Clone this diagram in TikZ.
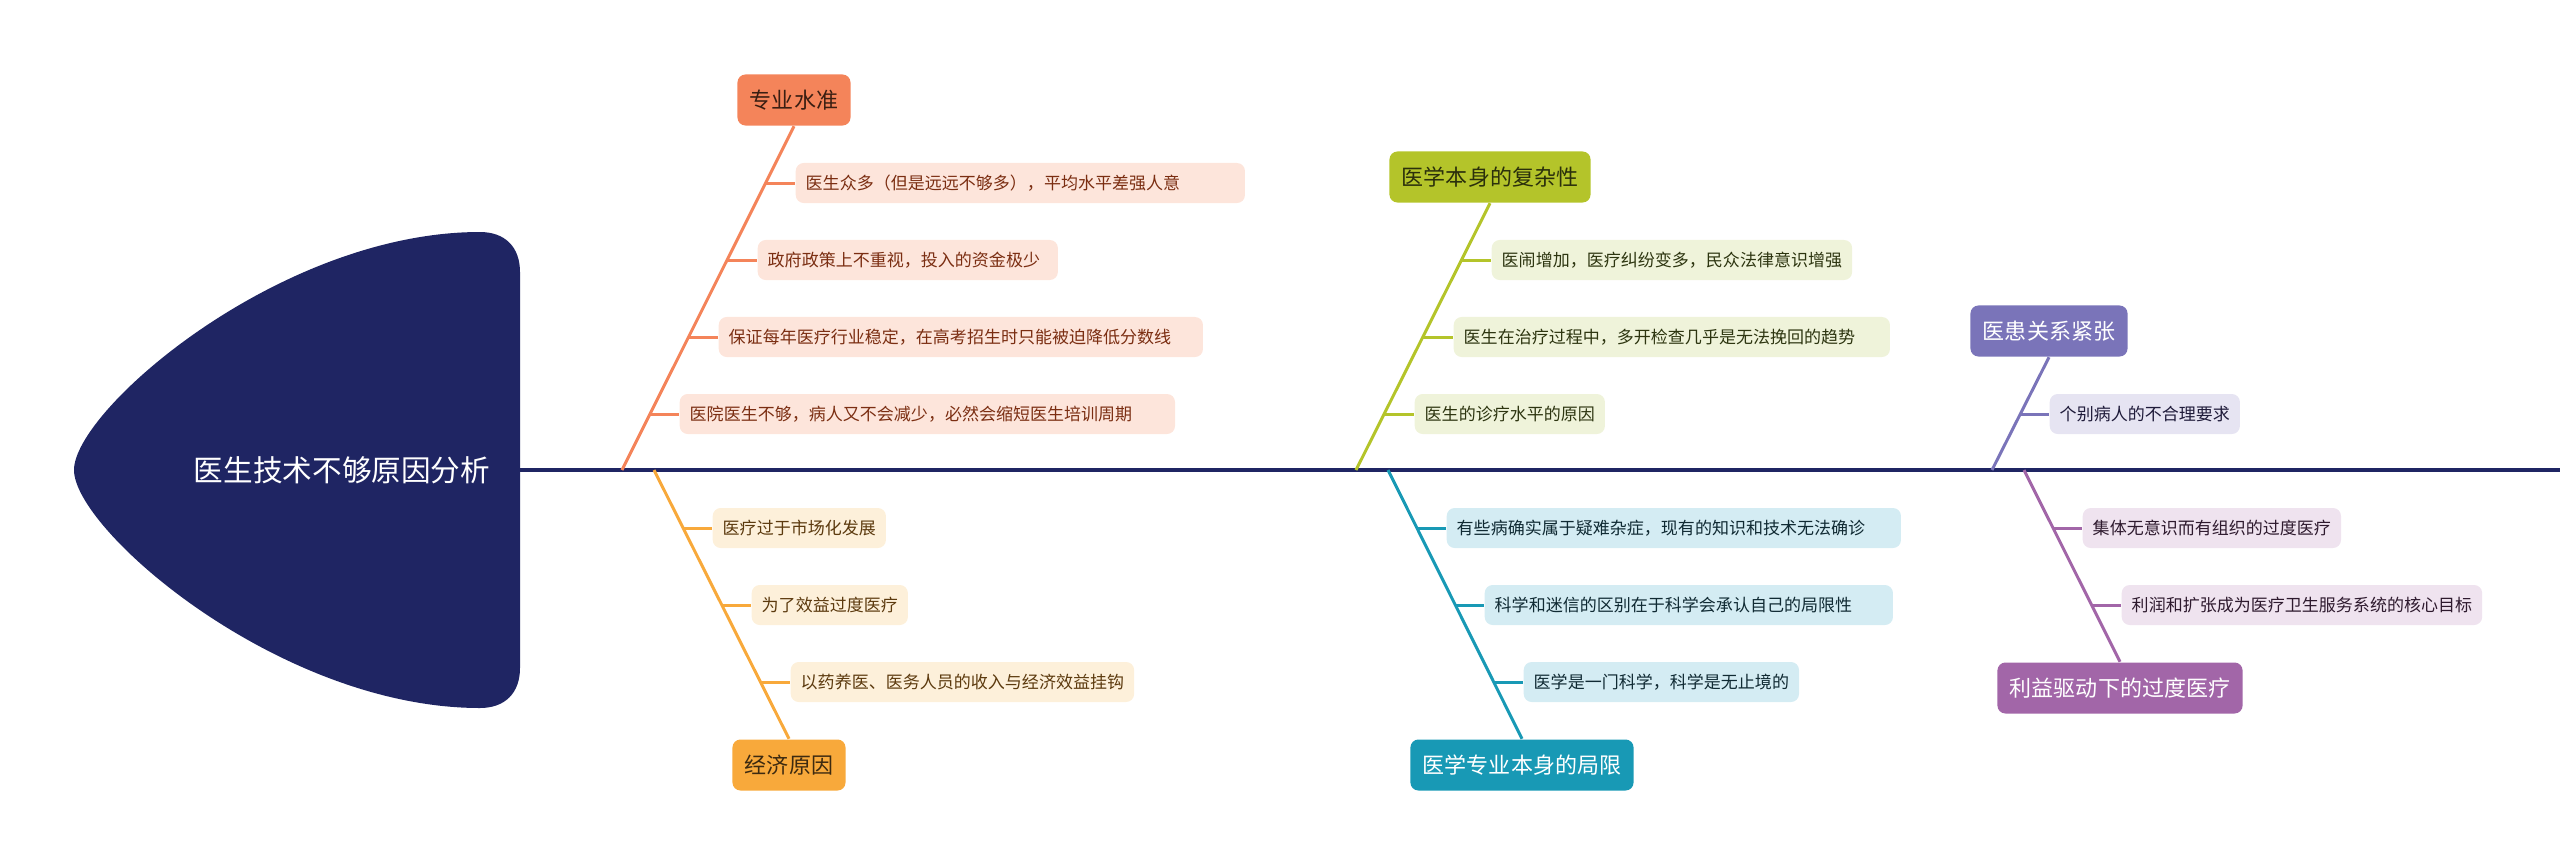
\documentclass[tikz,border=0pt]{standalone}
\usepackage{fontspec}
\setmainfont{Noto Sans CJK SC}

\definecolor{navy}{HTML}{1F2563}
\definecolor{cA}{HTML}{F4845A}
\definecolor{tA}{HTML}{3A1E12}
\definecolor{fA}{HTML}{FDE5DB}
\definecolor{sA}{HTML}{7B2E12}
\definecolor{cB}{HTML}{F8A93B}
\definecolor{tB}{HTML}{3D2A10}
\definecolor{fB}{HTML}{FDF0DA}
\definecolor{sB}{HTML}{5C3A0E}
\definecolor{cC}{HTML}{B4C42A}
\definecolor{tC}{HTML}{2B300C}
\definecolor{fC}{HTML}{EFF3DA}
\definecolor{sC}{HTML}{2D3510}
\definecolor{cD}{HTML}{1899B5}
\definecolor{fD}{HTML}{D4ECF3}
\definecolor{sD}{HTML}{102A33}
\definecolor{cE}{HTML}{7A74B9}
\definecolor{fE}{HTML}{E6E4F2}
\definecolor{sE}{HTML}{1F1B3A}
\definecolor{cF}{HTML}{A266A8}
\definecolor{fF}{HTML}{EFE3EF}
\definecolor{sF}{HTML}{2E1A2E}

\begin{document}
\begin{tikzpicture}[x=0.01cm,y=-0.01cm]
\tikzstyle{every node}=[]
\tikzstyle{topic}=[rounded corners=0.08cm, minimum height=0.51cm, inner xsep=0.125cm, font=\fontsize{6.26}{7}\selectfont]
\tikzstyle{item}=[rounded corners=0.08cm, minimum height=0.4cm, inner xsep=0.1cm, anchor=west, font=\fontsize{4.84}{6}\selectfont]
\tikzstyle{bone}=[line width=0.85pt]

\useasboundingbox (0,0) rectangle (2560,866);

% head
\fill[navy] (74,470) .. controls (74,410) and (280,232) .. (480,232)
  .. controls (505,232) and (520,247) .. (520,272) -- (520,668)
  .. controls (520,693) and (505,708) .. (480,708)
  .. controls (280,708) and (74,530) .. (74,470) -- cycle;
\node[text=white, font=\fontsize{8.42}{10}\selectfont] (head) at (342,470) {医生技术不够原因分析};

\coordinate (neck) at (520,470);
\coordinate (tail) at (2560,470);
\draw[navy, line width=1.15pt] (neck) -- (tail);

\coordinate (ja) at (622,470);
\coordinate (jb) at (654,470);
\coordinate (jc) at (1356,470);
\coordinate (jd) at (1388,470);
\coordinate (je) at (1992,470);
\coordinate (jf) at (2024,470);

\node[topic, fill=cA, text=tA] (zy) at (794,100) {专业水准};
\node[topic, fill=cB, text=tB] (jj) at (789,765) {经济原因};
\node[topic, fill=cC, text=tC] (fz) at (1490,177) {医学本身的复杂性};
\node[topic, fill=cD, text=white] (jx) at (1522,765) {医学专业本身的局限};
\node[topic, fill=cE, text=white] (yh) at (2049,331) {医患关系紧张};
\node[topic, fill=cF, text=white] (ly) at (2120,688) {利益驱动下的过度医疗};

\node[item, fill=fA, text=sA, text width=4.29cm] (a1) at (795,183) {医生众多（但是远远不够多），平均水平差强人意};
\node[item, fill=fA, text=sA, text width=2.8cm] (a2) at (757,260) {政府政策上不重视，投入的资金极少};
\node[item, fill=fA, text=sA, text width=4.64cm] (a3) at (718,337) {保证每年医疗行业稳定，在高考招生时只能被迫降低分数线};
\node[item, fill=fA, text=sA, text width=4.75cm] (a4) at (679,414) {医院医生不够，病人又不会减少，必然会缩短医生培训周期};

\node[item, fill=fB, text=sB] (b1) at (712,528) {医疗过于市场化发展};
\node[item, fill=fB, text=sB] (b2) at (751,605) {为了效益过度医疗};
\node[item, fill=fB, text=sB] (b3) at (790,682) {以药养医、医务人员的收入与经济效益挂钩};

\node[item, fill=fC, text=sC] (c1) at (1491,260) {医闹增加，医疗纠纷变多，民众法律意识增强};
\node[item, fill=fC, text=sC, text width=4.16cm] (c2) at (1453,337) {医生在治疗过程中，多开检查几乎是无法挽回的趋势};
\node[item, fill=fC, text=sC] (c3) at (1414,414) {医生的诊疗水平的原因};

\node[item, fill=fD, text=sD, text width=4.34cm] (d1) at (1446,528) {有些病确实属于疑难杂症，现有的知识和技术无法确诊};
\node[item, fill=fD, text=sD, text width=3.88cm] (d2) at (1484,605) {科学和迷信的区别在于科学会承认自己的局限性};
\node[item, fill=fD, text=sD] (d3) at (1523,682) {医学是一门科学，科学是无止境的};

\node[item, fill=fE, text=sE] (e1) at (2049,414) {个别病人的不合理要求};

\node[item, fill=fF, text=sF] (f1) at (2082,528) {集体无意识而有组织的过度医疗};
\node[item, fill=fF, text=sF] (f2) at (2121,605) {利润和扩张成为医疗卫生服务系统的核心目标};

% points on the bones
\coordinate (pa1) at (765,183);
\coordinate (pa2) at (727,260);
\coordinate (pa3) at (688,337);
\coordinate (pa4) at (650,414);
\coordinate (pb1) at (683,528);
\coordinate (pb2) at (722,605);
\coordinate (pb3) at (760,682);
\coordinate (pc1) at (1461,260);
\coordinate (pc2) at (1423,337);
\coordinate (pc3) at (1384,414);
\coordinate (pd1) at (1417,528);
\coordinate (pd2) at (1455,605);
\coordinate (pd3) at (1494,682);
\coordinate (pe1) at (2020,414);
\coordinate (pf1) at (2053,528);
\coordinate (pf2) at (2091,605);

\draw[bone, cA] (ja) -- (zy.south);
\draw[bone, cB] (jb) -- (jj.north);
\draw[bone, cC] (jc) -- (fz.south);
\draw[bone, cD] (jd) -- (jx.north);
\draw[bone, cE] (je) -- (yh.south);
\draw[bone, cF] (jf) -- (ly.north);

\draw[bone, cA] (pa1) -- (a1.west);
\draw[bone, cA] (pa2) -- (a2.west);
\draw[bone, cA] (pa3) -- (a3.west);
\draw[bone, cA] (pa4) -- (a4.west);
\draw[bone, cB] (pb1) -- (b1.west);
\draw[bone, cB] (pb2) -- (b2.west);
\draw[bone, cB] (pb3) -- (b3.west);
\draw[bone, cC] (pc1) -- (c1.west);
\draw[bone, cC] (pc2) -- (c2.west);
\draw[bone, cC] (pc3) -- (c3.west);
\draw[bone, cD] (pd1) -- (d1.west);
\draw[bone, cD] (pd2) -- (d2.west);
\draw[bone, cD] (pd3) -- (d3.west);
\draw[bone, cE] (pe1) -- (e1.west);
\draw[bone, cF] (pf1) -- (f1.west);
\draw[bone, cF] (pf2) -- (f2.west);
\end{tikzpicture}
\end{document}
